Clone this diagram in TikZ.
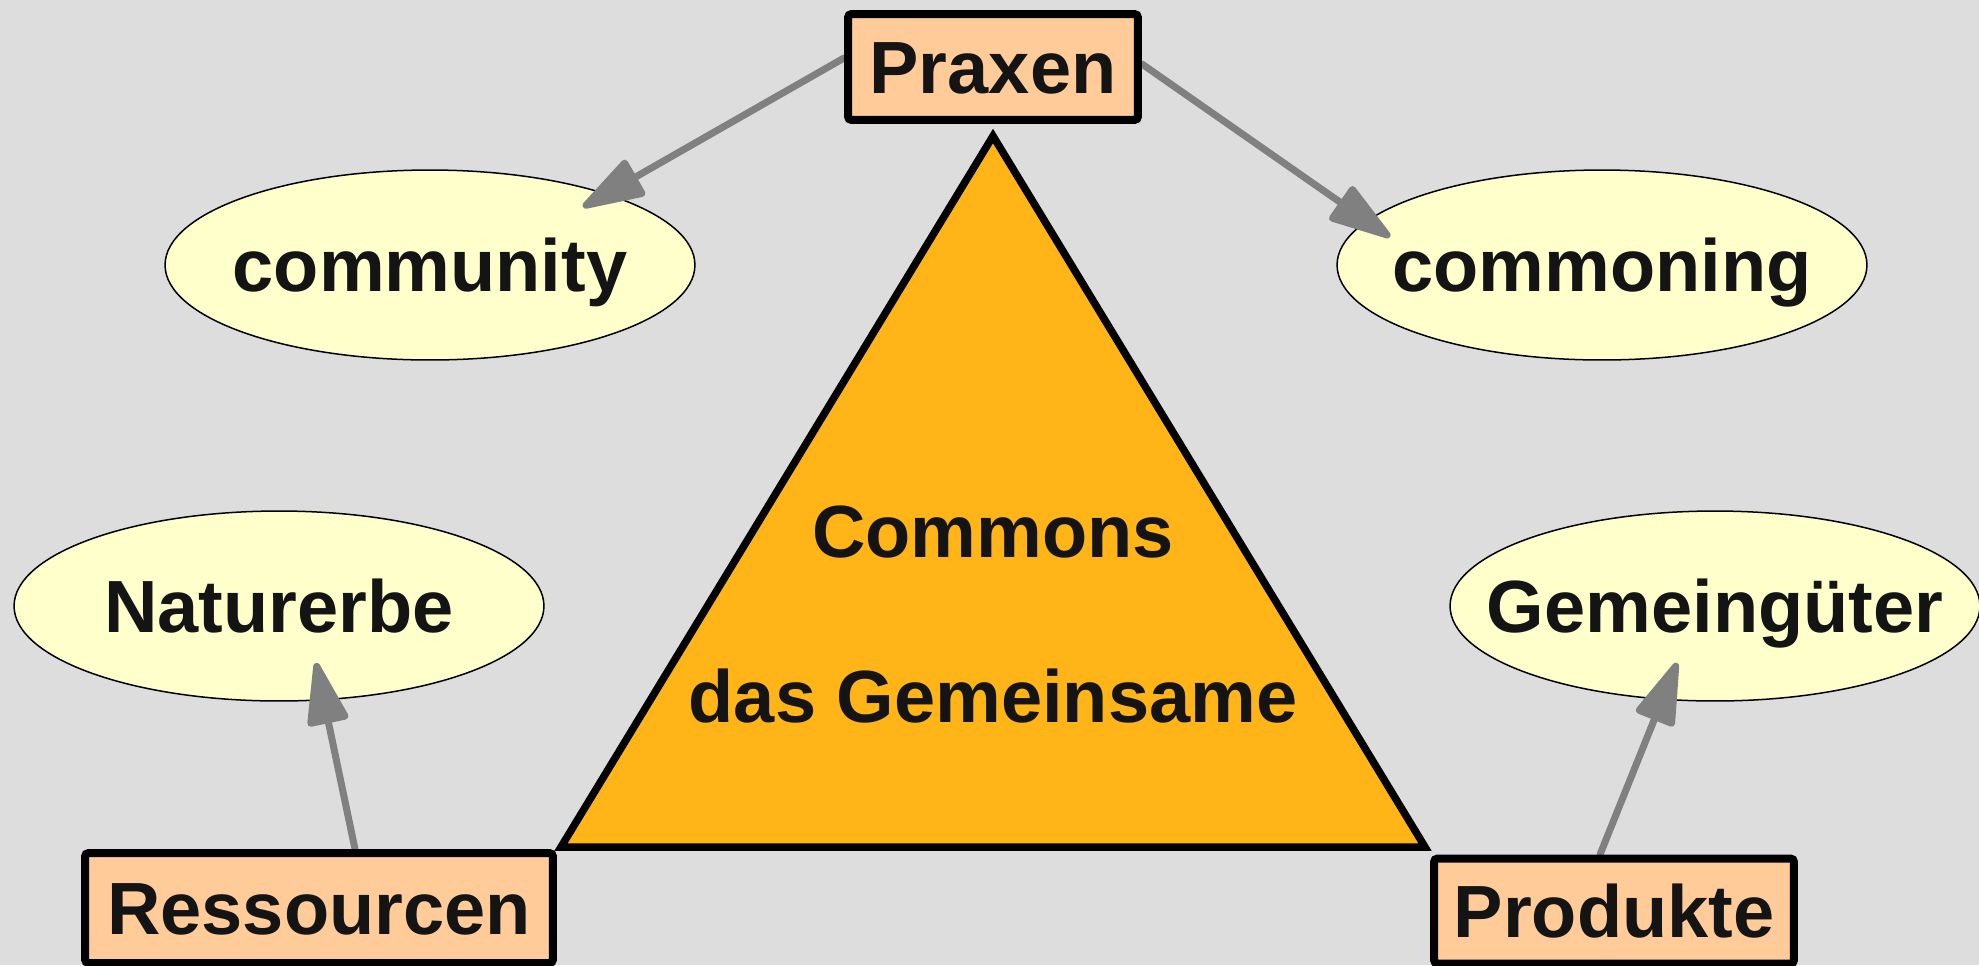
\documentclass[tikz,border=0pt]{standalone}
\usepackage{fontspec}
\setmainfont{Liberation Sans}
\usetikzlibrary{arrows.meta,shapes.geometric,calc}
\definecolor{bgc}{HTML}{DDDDDD}
\definecolor{boxc}{HTML}{FFCC99}
\definecolor{ovalc}{HTML}{FFFFCC}
\definecolor{tric}{HTML}{FFB418}
\definecolor{arrc}{HTML}{808080}
\definecolor{txtc}{HTML}{141414}
\pgfdeclarelayer{back}
\pgfdeclarelayer{bg}
\pgfdeclarelayer{mid}
\pgfsetlayers{back,bg,mid,main}
\begin{document}
\begin{tikzpicture}[x=0.02cm,y=-0.02cm,
  lbl/.style={font=\fontsize{42.1}{50}\selectfont\bfseries, text=txtc, inner sep=0pt,
    text height=30.3pt, text depth=0pt},
  boxnode/.style={lbl, draw=black, fill=boxc, line width=0.16cm, rounded corners=2pt},
  oval/.style={ellipse, draw=black, fill=ovalc, line width=0.03cm, inner sep=0pt,
    minimum width=10.6cm, minimum height=3.8cm},
  arr/.style={draw=arrc, line width=0.14cm, line cap=round,
    -{Triangle[length=1.4cm,width=0.85cm,round]}}
]
\useasboundingbox (0,0) rectangle (1979,965);
\begin{pgfonlayer}{back}
\fill[bgc] (0,0) rectangle (1979,965);
\end{pgfonlayer}

% boxes (main layer)
\node[boxnode, minimum width=5.8cm, minimum height=2.12cm] (praxen) at (993,67) {Praxen};
\node[boxnode, minimum width=9.36cm, minimum height=2.2cm] (res) at (319,908) {Ressourcen};
\node[boxnode, minimum width=7.2cm, minimum height=2.1cm] (prod) at (1614,911) {Produkte};

\begin{pgfonlayer}{bg}
\node[oval] (comm) at (430,265) {};
\node[oval] (commoning) at (1602,265) {};
\node[oval] (nat) at (279,606) {};
\node[oval] (gem) at (1715,606) {};
\coordinate (apex) at (993,136);
\coordinate (bl) at (561,847);
\coordinate (br) at (1425,847);
\draw[fill=tric, draw=black, line width=0.15cm, line join=miter] (apex) -- (br) -- (bl) -- cycle;
\end{pgfonlayer}

\node[lbl] (commT) at (comm) {community};
\node[lbl] (commoningT) at (commoning) {commoning};
\node[lbl] (natT) at (nat) {Naturerbe};
\node[lbl] (gemT) at (gem) {Gemeingüter};
\node[lbl] (commons) at (993,531) {Commons};
\node[lbl] (gemeinsam) at (993,696) {das Gemeinsame};

\coordinate (t1) at (583,207);
\coordinate (t2) at (1390,237);
\coordinate (t3) at (316,663);
\coordinate (t4) at (1677,663);
\begin{pgfonlayer}{mid}
\draw[arr] ($(praxen.west)+(0,-9)$) -- (t1);
\draw[arr] ($(praxen.east)+(0,-3)$) -- (t2);
\draw[arr] ($(res.north)+(36,0)$) -- (t3);
\draw[arr] ($(prod.north)+(-14,0)$) -- (t4);
\end{pgfonlayer}
\end{tikzpicture}
\end{document}
